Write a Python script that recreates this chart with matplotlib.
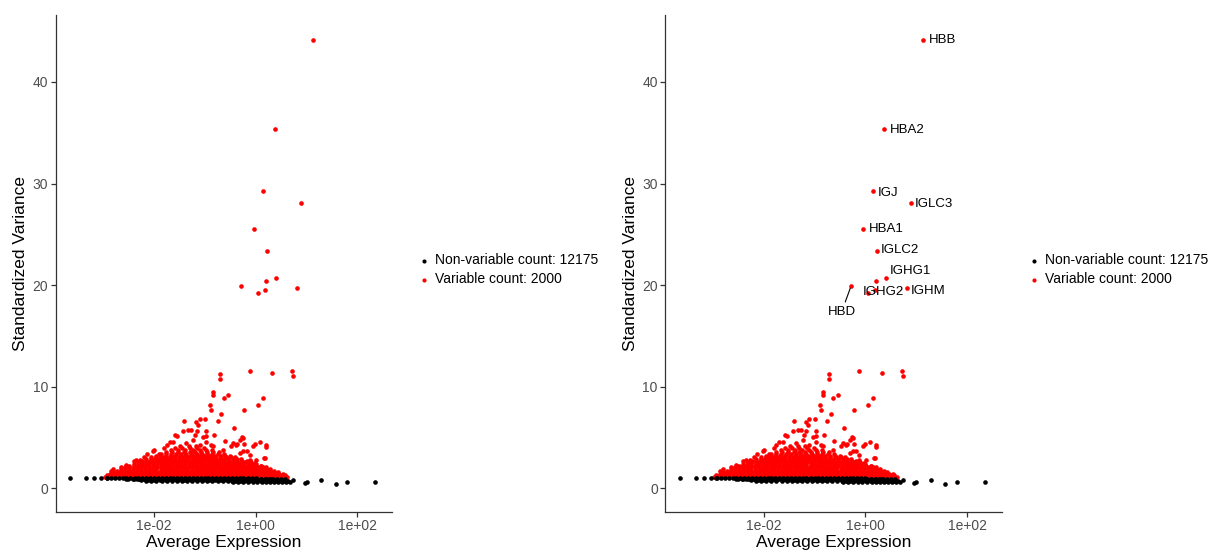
import matplotlib
matplotlib.use('Agg')
import matplotlib.pyplot as plt
import numpy as np

plt.rcParams['font.family'] = ['Liberation Sans', 'DejaVu Sans']

# ---- data (x stored as log10 of average expression) ----

# top 10 variable genes (labelled in the right panel)
top_genes = ['HBB', 'HBA2', 'IGJ', 'IGLC3', 'HBA1', 'IGLC2', 'IGHG1', 'IGHG2', 'HBD', 'IGHM']
top_logmean = [1.13, 0.37, 0.15, 0.89, -0.04, 0.22, 0.40, 0.20, -0.28, 0.81]
top_var = [44.1, 35.4, 29.3, 28.1, 25.5, 23.4, 20.7, 20.45, 19.95, 19.7]

# where ggrepel put the labels (log10 x of text anchor, y)
label_logmean = [1.25, 0.47, 0.25, 0.97, 0.06, 0.30, 0.48, -0.06, -0.47, 0.89]
label_var = [44.1, 35.3, 29.1, 28.0, 25.5, 23.5, 21.4, 19.3, 17.35, 19.4]

# remaining scattered variable genes
var_sparse = [
    (0.05, 19.2), (0.18, 19.5),
    (-0.71, 11.23), (-0.71, 10.75), (-0.12, 11.55), (0.32, 11.37), (0.72, 11.55), (0.74, 11.06),
    (-0.84, 9.46), (-0.84, 9.22), (-0.54, 9.22), (-0.63, 8.87), (0.15, 8.94), (-0.89, 8.24),
    (-0.88, 7.76), (0.05, 8.24), (-0.22, 7.76), (-0.68, 7.3), (-0.75, 6.64), (-0.42, 5.91),
    (-1.1, 6.78), (-1.17, 6.5), (-1.0, 6.78), (-1.4, 6.6), (-0.26, 5.04), (0.08, 4.6),
    (-0.01, 4.35), (0.2, 4.24), (0.2, 4.07), (0.16, 2.96), (-0.36, 4.35), (-0.98, 5.67),
    (-0.97, 5.2), (-0.81, 5.29), (-1.27, 5.74), (-1.13, 6.24),
    (-1.55, 5.2), (-1.43, 5.66), (-1.33, 5.76), (-1.16, 5.66), (-1.59, 5.27), (-1.2, 5.27), (-1.03, 5.1),
    (-1.75, 4.29), (-1.62, 4.61), (-1.36, 4.46), (-1.23, 4.78), (-1.1, 4.29), (-0.97, 4.61),
    (-0.84, 4.13), (-0.87, 4.29), (-0.61, 4.68), (-0.45, 4.46), (-0.31, 4.78), (-0.22, 4.39),
    (-0.05, 4.13), (-0.38, 4.29), (-0.25, 4.95), (-0.25, 3.64), (-0.12, 3.32), (0.01, 2.83),
    (0.18, 3.0), (-0.64, 3.8), (-0.48, 4.13), (-0.31, 3.48), (-0.18, 3.64), (-0.12, 2.83),
    (-0.02, 2.5), (0.11, 2.18), (0.27, 1.85), (0.41, 1.53), (0.54, 1.37), (0.5, 1.2),
    (-2.27, 2.83), (-2.14, 3.38), (-2.01, 3.64), (-2.4, 2.66), (-2.85, 1.75), (-2.8, 1.9),
    (-2.65, 2.1), (-2.55, 2.3), (-2.35, 2.8), (-2.2, 3.1), (-2.0, 3.77), (-1.9, 3.4),
    (-1.69, 4.6), (-1.8, 4.0),
]

# dense part of the variable cloud, read row by row: (variance, [log10 mean, ...])
var_rows = [
    (1.12, [-2.97, -2.9, -2.82, -2.76, -2.67, -2.61, -2.53, -2.45, -2.38, -2.31, -2.22, -2.15, -2.07,
            -1.99, -1.92, -1.84, -1.77, -1.68, -1.61, -1.53, -1.46, -1.38, -1.3, -1.23, -1.15, -1.07,
            -0.99, -0.92, -0.84, -0.77, -0.69, -0.61, -0.54, -0.46, -0.38, -0.31, -0.23, -0.16, -0.08,
            0.0, 0.07, 0.15, 0.23, 0.3, 0.38, 0.46, 0.55, 0.62]),
    (1.27, [-2.93, -2.86, -2.79, -2.71, -2.64, -2.56, -2.49, -2.41, -2.34, -2.26, -2.18, -2.11, -2.03,
            -1.95, -1.88, -1.8, -1.72, -1.65, -1.57, -1.49, -1.42, -1.34, -1.26, -1.19, -1.11, -1.03,
            -0.96, -0.88, -0.8, -0.73, -0.65, -0.57, -0.5, -0.42, -0.34, -0.27, -0.19, -0.12, -0.04,
            0.04, 0.11, 0.19, 0.27, 0.34, 0.42, 0.5, 0.57]),
    (1.43, [-2.86, -2.78, -2.7, -2.63, -2.55, -2.47, -2.4, -2.32, -2.24, -2.16, -2.09, -2.01, -1.93,
            -1.86, -1.78, -1.7, -1.62, -1.55, -1.47, -1.39, -1.32, -1.24, -1.16, -1.08, -1.01, -0.93,
            -0.85, -0.78, -0.7, -0.62, -0.54, -0.47, -0.39, -0.31, -0.24, -0.16, -0.08, 0.0, 0.08,
            0.15, 0.23, 0.31, 0.39, 0.46]),
    (1.59, [-2.8, -2.72, -2.65, -2.57, -2.49, -2.42, -2.34, -2.27, -2.19, -2.11, -2.04, -1.96, -1.88,
            -1.81, -1.73, -1.66, -1.58, -1.5, -1.43, -1.35, -1.27, -1.2, -1.12, -1.05, -0.97, -0.89,
            -0.82, -0.74, -0.66, -0.59, -0.51, -0.44, -0.36, -0.28, -0.21, -0.13, -0.05, 0.02, 0.1,
            0.18, 0.26, 0.35, 0.43]),
    (1.75, [-2.72, -2.64, -2.56, -2.48, -2.41, -2.33, -2.25, -2.18, -2.1, -2.02, -1.95, -1.87, -1.79,
            -1.71, -1.64, -1.56, -1.48, -1.41, -1.33, -1.25, -1.18, -1.1, -1.02, -0.95, -0.87, -0.79,
            -0.71, -0.64, -0.56, -0.48, -0.41, -0.33, -0.25, -0.18, -0.1, -0.02, 0.06, 0.13, 0.21,
            0.29, 0.36]),
    (1.91, [-2.64, -2.56, -2.49, -2.41, -2.33, -2.26, -2.18, -2.1, -2.03, -1.95, -1.87, -1.8, -1.72,
            -1.64, -1.57, -1.49, -1.41, -1.34, -1.26, -1.18, -1.11, -1.03, -0.95, -0.88, -0.8, -0.72,
            -0.65, -0.57, -0.49, -0.42, -0.34, -0.26, -0.19, -0.11, -0.03, 0.05, 0.13, 0.2, 0.28]),
    (2.07, [-2.56, -2.48, -2.4, -2.33, -2.25, -2.17, -2.09, -2.02, -1.94, -1.86, -1.79, -1.71, -1.63,
            -1.55, -1.48, -1.4, -1.32, -1.25, -1.17, -1.09, -1.01, -0.94, -0.86, -0.78, -0.71, -0.63,
            -0.55, -0.47, -0.4, -0.32, -0.24, -0.17, -0.09, -0.01, 0.07, 0.14, 0.21]),
    (2.23, [-2.48, -2.4, -2.32, -2.25, -2.17, -2.09, -2.0, -1.93, -1.85, -1.78, -1.7, -1.62, -1.54,
            -1.47, -1.39, -1.31, -1.24, -1.16, -1.08, -1.0, -0.93, -0.85, -0.77, -0.7, -0.62, -0.54,
            -0.46, -0.39, -0.31, -0.23, -0.16, -0.08, 0.01, 0.1]),
    (2.39, [-2.4, -2.32, -2.24, -2.16, -2.09, -2.01, -1.93, -1.86, -1.78, -1.7, -1.62, -1.55, -1.47,
            -1.39, -1.32, -1.24, -1.16, -1.08, -1.01, -0.93, -0.85, -0.78, -0.7, -0.62, -0.54, -0.47,
            -0.39, -0.31, -0.24, -0.16, -0.08, 0.0]),
    (2.55, [-2.31, -2.23, -2.15, -2.08, -2.0, -1.92, -1.84, -1.77, -1.69, -1.61, -1.53, -1.46, -1.38,
            -1.3, -1.22, -1.15, -1.07, -0.91, -0.83, -0.76, -0.68, -0.6, -0.52, -0.45, -0.37, -0.29,
            -0.2, -0.1]),
    (2.71, [-2.23, -2.15, -2.07, -1.99, -1.91, -1.84, -1.76, -1.68, -1.6, -1.53, -1.45, -1.37, -1.29,
            -1.22, -1.14, -1.06, -0.98, -0.9, -0.83, -0.75, -0.67, -0.52, -0.44, -0.36, -0.27, -0.18]),
    (2.87, [-2.15, -2.06, -1.98, -1.9, -1.82, -1.74, -1.66, -1.58, -1.5, -1.42, -1.34, -1.26, -1.18,
            -1.1, -1.02, -0.94, -0.86, -0.78, -0.7, -0.62, -0.54, -0.45, -0.37, -0.28]),
    (3.04, [-2.05, -1.96, -1.87, -1.78, -1.69, -1.6, -1.51, -1.42, -1.33, -1.24, -1.15, -1.06, -0.97,
            -0.88, -0.79, -0.7, -0.58, -0.48, -0.4]),
    (3.22, [-1.96, -1.86, -1.77, -1.67, -1.58, -1.48, -1.39, -1.29, -1.2, -1.1, -1.01, -0.91, -0.8,
            -0.69, -0.6, -0.5]),
    (3.41, [-1.86, -1.76, -1.66, -1.56, -1.46, -1.36, -1.26, -1.16, -1.06, -0.96, -0.85, -0.74, -0.62]),
    (3.6, [-1.76, -1.64, -1.53, -1.41, -1.3, -1.19, -1.07, -0.96, -0.84, -0.72]),
    (3.8, [-1.66, -1.52, -1.38, -1.24, -1.1, -0.97, -0.85]),
    (4.0, [-1.58, -1.44, -1.3, -1.15, -1.02]),
    (4.2, [-1.48, -1.32, -1.18]),
]

# non-variable genes: the flat band, row by row, plus the isolated tails
nonvar_rows = [
    (1.0, [-2.92, -2.84, -2.77, -2.69, -2.61, -2.54, -2.46, -2.38, -2.31, -2.23, -2.15, -2.08, -2.0,
           -1.92, -1.85, -1.77, -1.69, -1.62, -1.54, -1.46, -1.39, -1.31, -1.23, -1.16, -1.08, -1.0,
           -0.93, -0.85, -0.77, -0.7, -0.62, -0.54, -0.47, -0.39, -0.31, -0.24, -0.16, -0.08, 0.0]),
    (0.94, [-2.4, -2.3, -2.2, -2.1, -2.0, -1.9, -1.8, -1.7, -1.6, -1.5, -1.4, -1.3, -1.2, -1.1, -1.0,
            -0.9, -0.8, -0.7, -0.6, -0.5, -0.4, -0.3, -0.2, -0.1, 0.0, 0.1, 0.2, 0.3]),
    (0.88, [-2.55, -2.5, -2.42, -2.34, -2.27, -2.19, -2.11, -2.04, -1.96, -1.88, -1.81, -1.73, -1.65,
            -1.58, -1.5, -1.42, -1.35, -1.27, -1.19, -1.12, -1.04, -0.96, -0.89, -0.81, -0.73, -0.66,
            -0.58, -0.5, -0.43, -0.35, -0.27, -0.2, -0.12, -0.04, 0.03, 0.11, 0.19, 0.26, 0.34, 0.42,
            0.5, 0.58]),
    (0.82, [-2.25, -2.12, -2.0, -1.88, -1.76, -1.64, -1.52, -1.4, -1.28, -1.16, -1.04, -0.92, -0.8,
            -0.68, -0.56, -0.44, -0.32, -0.2, -0.08, 0.04, 0.16, 0.28, 0.4, 0.52]),
    (0.76, [-2.15, -2.05, -1.95, -1.85, -1.75, -1.65, -1.55, -1.45, -1.35, -1.25, -1.15, -1.05, -0.95,
            -0.85, -0.75, -0.65, -0.55, -0.46, -0.38, -0.3, -0.22, -0.14, -0.06, 0.02, 0.1, 0.18, 0.26,
            0.34, 0.42, 0.5, 0.57, 0.64]),
    (0.66, [-0.45, -0.35, -0.25, -0.15, -0.06, 0.03, 0.12, 0.2, 0.28, 0.36, 0.44, 0.52, 0.6, 0.68]),
]
nonvar_tail_logmean = [-3.64, -3.34, -3.17, -3.04, -2.93, 0.73, 0.96, 1.0, 1.29, 1.57, 1.8, 2.35]
nonvar_tail_var = [1.04, 1.04, 1.04, 1.04, 1.04, 0.78, 0.55, 0.62, 0.78, 0.47, 0.67, 0.59]

n_nonvar = 12175
n_var = 2000


def expand(rows):
    m, v = [], []
    for y, xs in rows:
        m += xs
        v += [y] * len(xs)
    return m, v


var_m, var_v = expand(var_rows)
var_m += [p[0] for p in var_sparse] + top_logmean
var_v += [p[1] for p in var_sparse] + top_var
nonvar_m, nonvar_v = expand(nonvar_rows)
nonvar_m += nonvar_tail_logmean
nonvar_v += nonvar_tail_var

var_x = 10 ** np.array(var_m)
nonvar_x = 10 ** np.array(nonvar_m)

fig = plt.figure(figsize=(12.24, 5.57), dpi=100)
ax1 = fig.add_axes((0.0455, 0.0813, 0.2748, 0.892))
ax2 = fig.add_axes((0.5437, 0.0813, 0.2748, 0.892))


def draw_panel(ax):
    hv = ax.scatter(var_x, var_v, s=11, c='#FF0000', linewidths=0, zorder=2)
    hn = ax.scatter(nonvar_x, nonvar_v, s=11, c='black', linewidths=0, zorder=3)
    ax.set_xscale('log')
    ax.set_xlim(10 ** -3.93, 10 ** 2.68)
    ax.set_ylim(-2.3, 46.6)
    ax.set_xticks([1e-2, 1e0, 1e2])
    ax.set_xticklabels(['1e-02', '1e+00', '1e+02'])
    ax.xaxis.set_minor_locator(matplotlib.ticker.NullLocator())
    ax.set_yticks([0, 10, 20, 30, 40])
    ax.spines['top'].set_visible(False)
    ax.spines['right'].set_visible(False)
    for s in ('left', 'bottom'):
        ax.spines[s].set_linewidth(0.9)
        ax.spines[s].set_color('#333333')
    ax.tick_params(direction='out', length=3.5, width=0.9, color='#333333',
                   labelsize=10, labelcolor='#4D4D4D', pad=2)
    ax.set_xlabel('Average Expression', fontsize=12.5, labelpad=1)
    ax.set_ylabel('Standardized Variance', fontsize=12.5, labelpad=3)
    ax.legend([hn, hv], ['Non-variable count: %d' % n_nonvar, 'Variable count: %d' % n_var],
              loc='center left', bbox_to_anchor=(1.082, 0.487), frameon=False,
              fontsize=10, handlelength=0.7, handletextpad=0.4, labelspacing=0.35,
              borderpad=0, borderaxespad=0, scatterpoints=1, markerscale=0.9)


draw_panel(ax1)
draw_panel(ax2)

for name, m, v, lm, lv in zip(top_genes, top_logmean, top_var, label_logmean, label_var):
    if name == 'HBD':
        ax2.annotate(name, xy=(10 ** m, v), xytext=(10 ** lm, lv), ha='center', va='center',
                     fontsize=9.5, arrowprops=dict(arrowstyle='-', color='black', lw=0.8,
                                                   shrinkA=1, shrinkB=2))
    else:
        ax2.text(10 ** lm, lv, name, ha='left', va='center', fontsize=9.5, zorder=4)

fig.savefig('out.png', dpi=100)
